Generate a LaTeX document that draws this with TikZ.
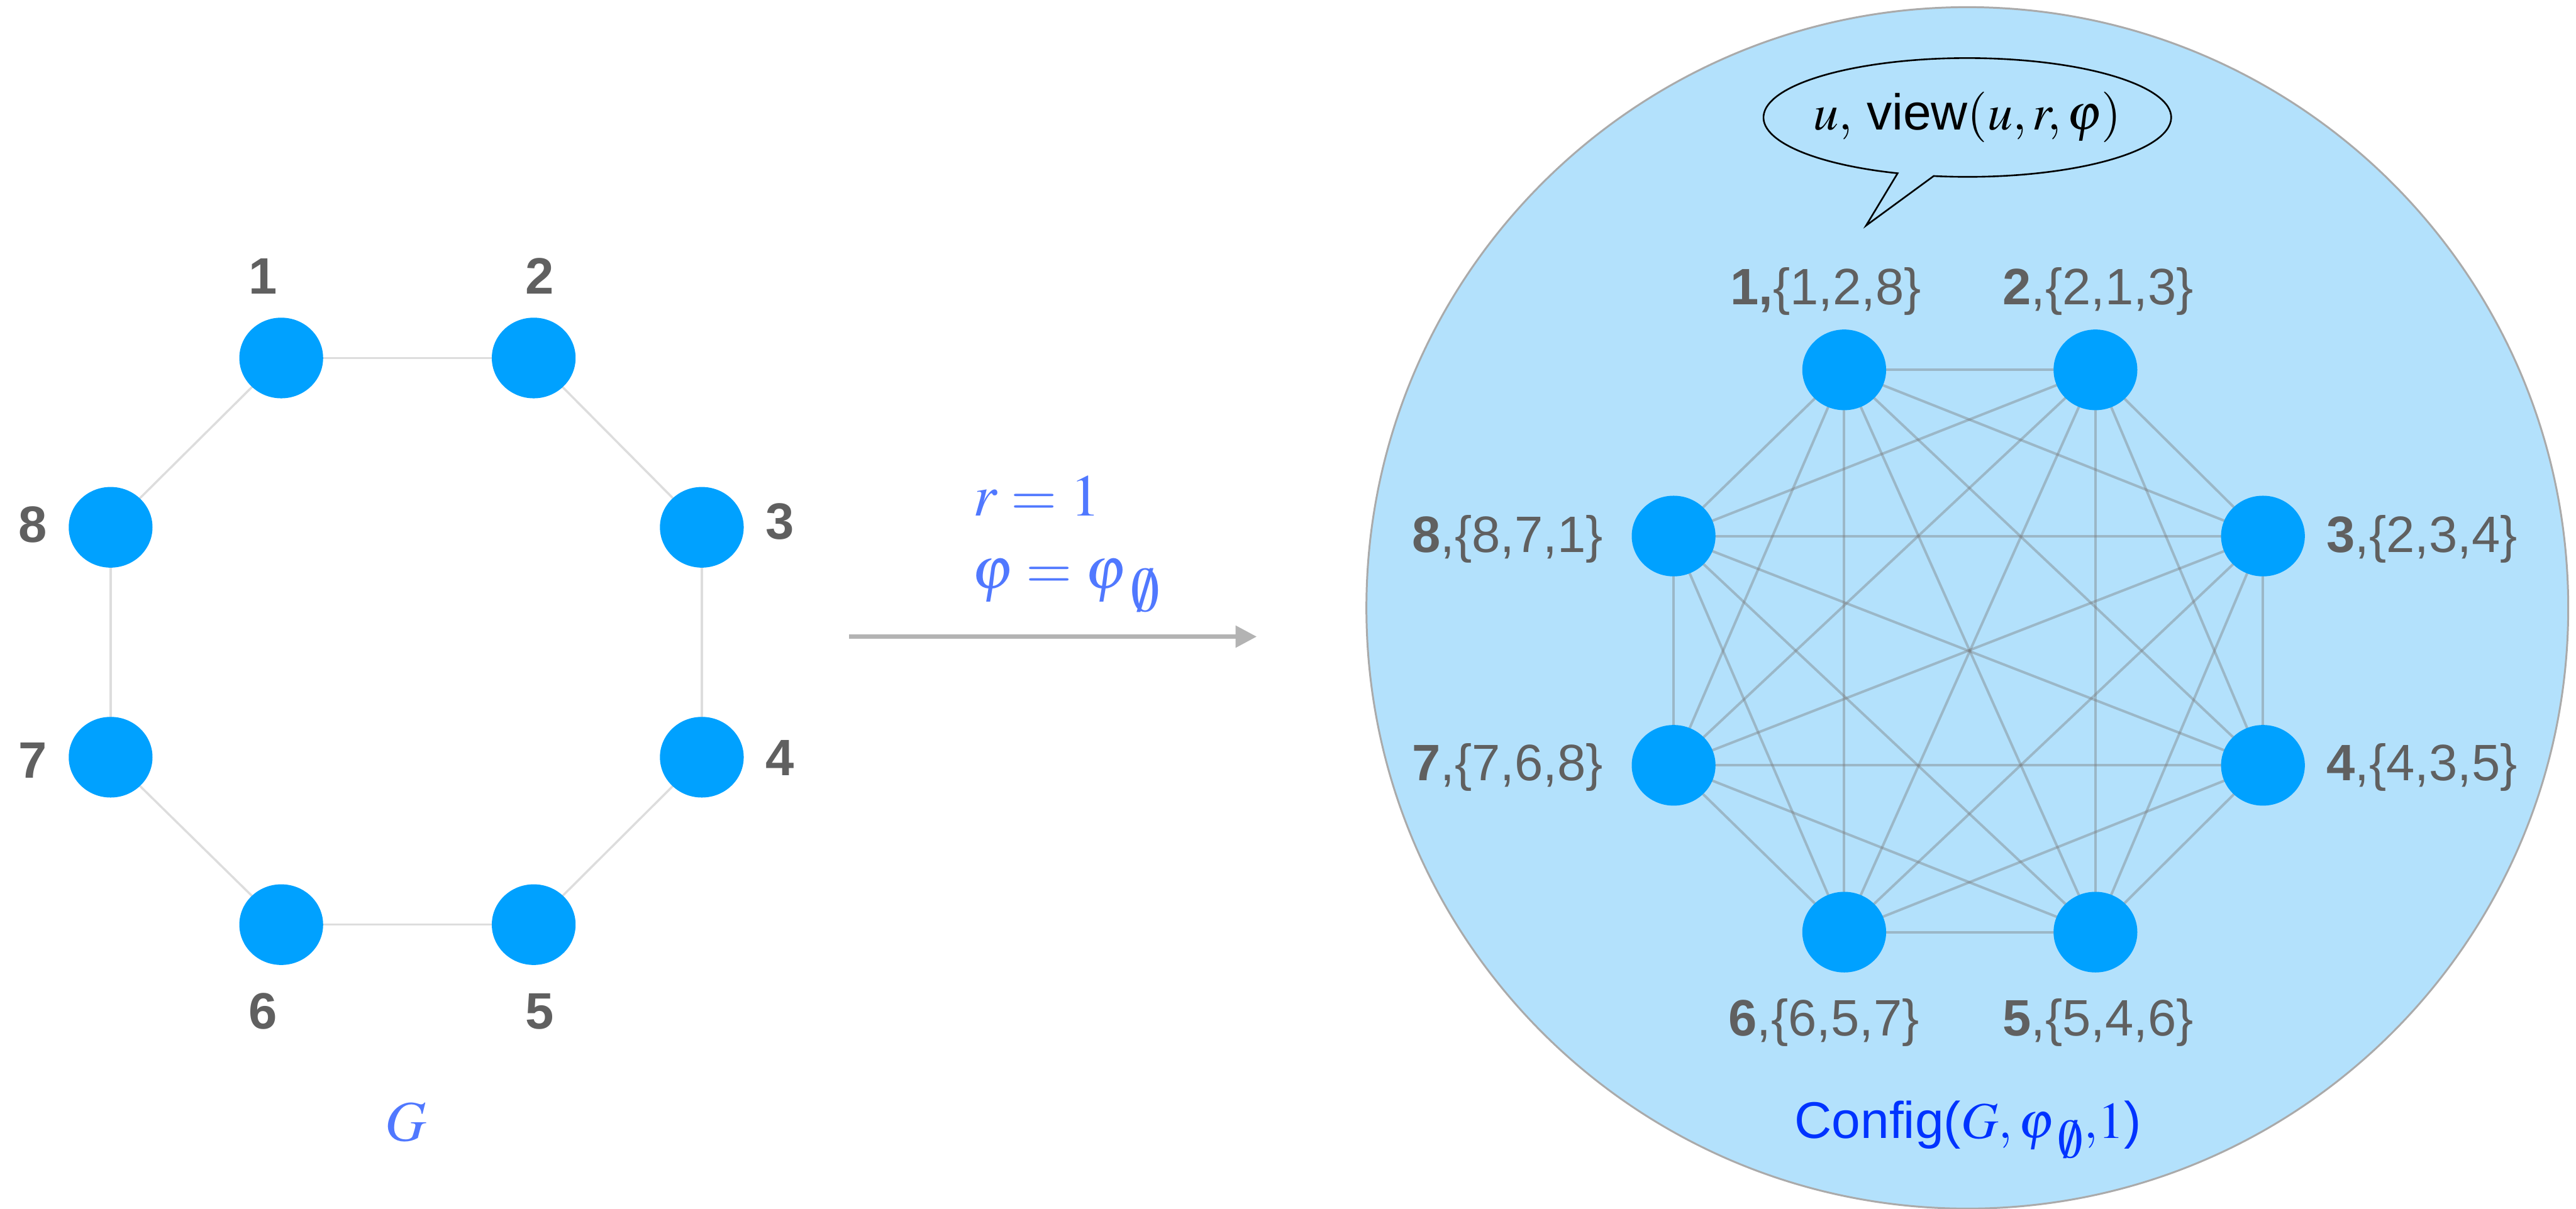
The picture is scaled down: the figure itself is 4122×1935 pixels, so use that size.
\documentclass[tikz,border=0pt]{standalone}
\usepackage{graphicx}
\usepackage{mathptmx}
\usepackage[no-math]{fontspec}
\setmainfont{Liberation Sans}
\usetikzlibrary{shapes.geometric,arrows.meta,calc}
\definecolor{nodeblue}{RGB}{0,161,255}
\definecolor{cfgfill}{RGB}{179,225,252}
\definecolor{cfgline}{RGB}{170,170,170}
\definecolor{lblgray}{RGB}{96,96,96}
\definecolor{edgegray}{RGB}{221,221,221}
\definecolor{kedge}{RGB}{120,120,120}
\definecolor{mathblue}{RGB}{80,120,255}
\definecolor{cfgblue}{RGB}{0,51,255}
\definecolor{arrowgray}{RGB}{179,179,179}
\newcommand{\bigempty}{\mkern4mu\raisebox{-0.35ex}{\scalebox{1.3}[1.45]{$\scriptstyle\emptyset$}}}
\pgfdeclarelayer{back}
\pgfdeclarelayer{mid}
\pgfsetlayers{back,mid,main}
\tikzset{
  vtx/.style={ellipse, fill=nodeblue, minimum width=1.34cm, minimum height=1.29cm, inner sep=0pt},
  llab/.style={font=\fontsize{23.3}{28}\selectfont\bfseries, text=lblgray, inner sep=0pt, anchor=base},
  rlab/.style={font=\fontsize{23.3}{28}\selectfont, text=lblgray, inner sep=0pt, anchor=base west},
  ledge/.style={draw=edgegray, line width=0.035cm},
  redge/.style={draw=kedge, draw opacity=0.4, line width=0.04cm},
  mtxt/.style={font=\fontsize{27}{32}\selectfont, text=mathblue, inner sep=0pt, anchor=base west}
}
\begin{document}
\begin{tikzpicture}[x=0.01cm,y=-0.01cm]
\useasboundingbox (0,0) rectangle (4122,1935);

% ---------- left graph G ----------
\foreach \i/\x/\y in {1/450/573, 2/854/573, 3/1123/844, 4/1123/1212, 5/854/1480, 6/450/1480, 7/177/1212, 8/177/844}
  \node[vtx] (L\i) at (\x,\y) {};
\begin{pgfonlayer}{mid}
\foreach \a/\b in {1/2, 2/3, 3/4, 4/5, 5/6, 6/7, 7/8, 8/1}
  \draw[ledge] (L\a.center) -- (L\b.center);
\end{pgfonlayer}
\node[llab] (l1) at (421,470) {1};
\node[llab] (l2) at (864,470) {2};
\node[llab] (l3) at (1248,863) {3};
\node[llab] (l4) at (1248,1241) {4};
\node[llab] (l5) at (864,1647) {5};
\node[llab] (l6) at (421,1647) {6};
\node[llab] (l7) at (52,1245) {7};
\node[llab] (l8) at (52,868) {8};
\node[font=\fontsize{26}{30}\selectfont, text=mathblue, inner sep=0pt, anchor=base] (glab) at (649,1826) {$G$};

% ---------- arrow ----------
\coordinate (as) at (1359,1019);
\coordinate (ae) at (2011,1019);
\draw[line width=0.07cm, arrowgray, -{Triangle[length=0.34cm,width=0.34cm]}] (as) -- (ae);
\node[mtxt] (rlab) at (1557,826) {$r=1$};
\node[mtxt] (philab) at (1555,942) {$\varphi=\varphi_{\bigempty}$};

% ---------- right: Config ----------
\begin{pgfonlayer}{back}
\node[circle, draw=cfgline, fill=cfgfill, line width=0.03cm, minimum size=19.22cm, inner sep=0pt] (cfg) at (3148,973) {};
\end{pgfonlayer}
\foreach \i/\x/\y in {1/2951/592, 2/3353/592, 3/3621/858, 4/3621/1225, 5/3353/1492, 6/2951/1492, 7/2678/1225, 8/2678/858}
  \node[vtx] (R\i) at (\x,\y) {};
\begin{pgfonlayer}{mid}
\foreach \a in {1,...,7}{
  \pgfmathtruncatemacro\s{\a+1}
  \foreach \b in {\s,...,8}
    \draw[redge] (R\a.center) -- (R\b.center);
}
\end{pgfonlayer}
\node[rlab] (r1) at (2768,488) {\textbf{1,}\{1,2,8\}};
\node[rlab] (r2) at (3204,488) {\textbf{2},\{2,1,3\}};
\node[rlab] (r3) at (3722,884) {\textbf{3},\{2,3,4\}};
\node[rlab] (r4) at (3722,1249) {\textbf{4},\{4,3,5\}};
\node[rlab] (r5) at (3204,1658) {\textbf{5},\{5,4,6\}};
\node[rlab] (r6) at (2765,1658) {\textbf{6},\{6,5,7\}};
\node[rlab] (r7) at (2259,1249) {\textbf{7},\{7,6,8\}};
\node[rlab] (r8) at (2259,884) {\textbf{8},\{8,7,1\}};

% speech bubble
\coordinate (bc) at (3148,188);
\coordinate (tA) at ($(bc)+(250:3.26cm and 0.95cm)$);
\coordinate (tB) at ($(bc)+(260.5:3.26cm and 0.95cm)$);
\coordinate (tip) at (2986,361);
\draw[line width=0.75pt, line join=miter] (tA) -- (tip) -- (tB) arc[start angle=260.5, end angle=610, x radius=3.26cm, y radius=0.95cm] -- cycle;
\node[font=\fontsize{23}{28}\selectfont, inner sep=0pt] (btxt) at (3148,188) {$u,$ view$(u,r,\varphi)$};

\node[font=\fontsize{23.5}{28}\selectfont, text=cfgblue, anchor=base, inner sep=0pt] (cfglab) at (3149,1822) {Config($G,\varphi_{\bigempty}{,}1$)};
\end{tikzpicture}
\end{document}
